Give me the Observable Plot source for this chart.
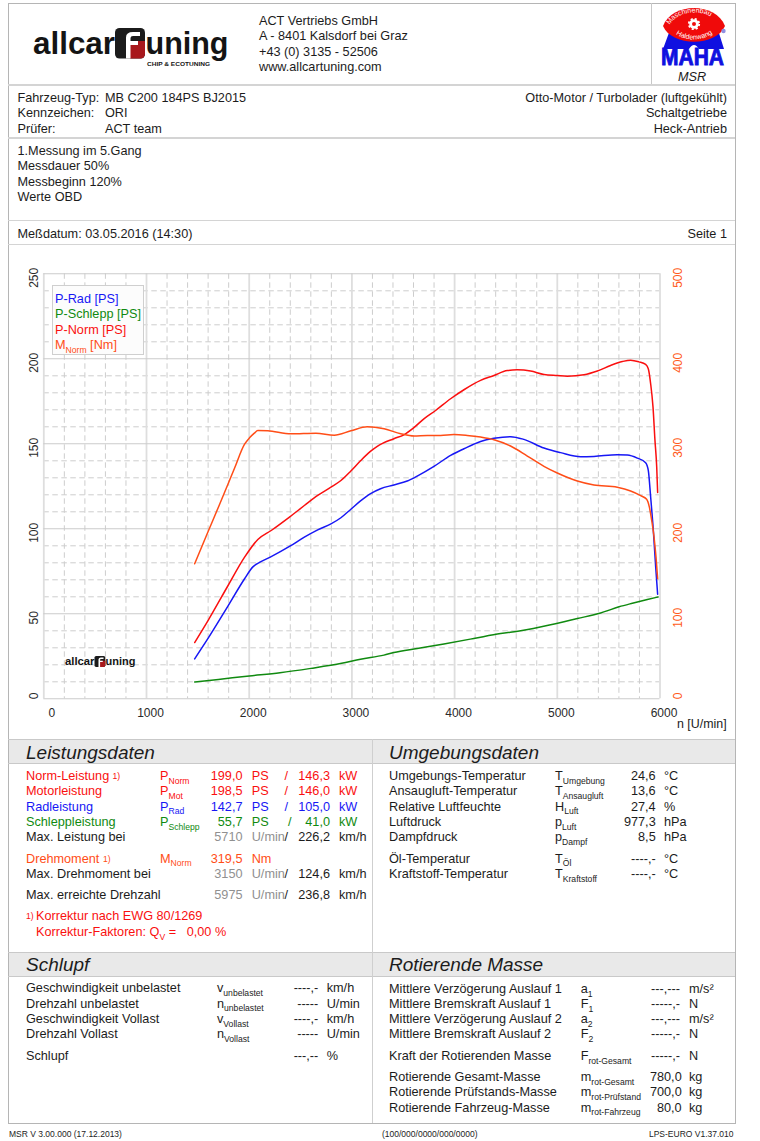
<!DOCTYPE html>
<html lang="de">
<head>
<meta charset="utf-8">
<title>MSR Leistungsmessung</title>
<script src="https://cdn.jsdelivr.net/npm/d3@7"></script>
<script src="https://cdn.jsdelivr.net/npm/@observablehq/plot@0.6"></script>
<style>
html,body{margin:0;padding:0;background:#fff}
#page{position:relative;width:760px;height:1141px;overflow:hidden;font-family:"Liberation Sans",Arial,sans-serif;font-size:12.7px;color:#1c1c1c}
#page .t{position:absolute;white-space:pre;line-height:1;transform:translateY(-50%)}
#page .t.r{transform:translate(-100%,-50%)}
#page .t sub{font-size:8.6px;vertical-align:baseline;position:relative;top:3.5px;line-height:0}
#page .b{position:absolute}
#chart{position:absolute;left:0;top:260px}
#chart svg{display:block;background:transparent}
</style>
</head>
<body>
<div id="page"><div id="chart"></div></div>
<script>
// ---- measured curves: engine speed [U/min] and value ----
const rpmRad = [1469,1599,1793,1955,2036,2100,2214,2392,2537,2667,2796,2893,2990,3084,3182,3279,3409,3539,3636,3799,3961,4091,4253,4383,4545,4675,4870,5032,5227,5357,5584,5682,5779,5860,5886,5909,5935,5958,5977];
const psRad  = [23.5,35.5,54.5,70.6,77.6,80.2,83.6,89.6,95.1,99.4,102.9,106.5,111.5,116.4,120.7,123.6,125.8,128.1,131,136.7,143.2,147.1,151.4,153.2,154.2,152.6,147.5,144.8,142.4,142.6,143.6,143.4,141.6,138.9,134.4,118.7,99.1,77.6,61.5];
const rpmNorm = [1469,1599,1793,1955,2084,2214,2392,2537,2667,2796,2893,2990,3084,3180,3247,3409,3506,3604,3701,3815,3961,4091,4253,4383,4513,4610,4740,4870,5000,5097,5260,5390,5519,5633,5714,5795,5860,5886,5909,5932,5951,5968,5977];
const psNorm  = [33.1,46,66.5,83.3,93.7,99,106.9,113.7,119.6,124.5,128.4,134,140,145.5,148.5,153,155.3,159.5,164.7,169.6,176.5,181.8,187.3,190.2,193.1,193.5,192.8,190.8,190.2,189.8,190.6,192.8,196.1,198.4,199.2,198.2,196.7,194.1,185.3,171.6,152,136.3,121.3];
const rpmSchlepp = [1469,1700,2000,2300,2600,2900,3084,3312,3409,3636,3896,4188,4448,4643,4935,5195,5422,5601,5731,5877,5981];
const psSchlepp  = [9.9,11.4,13.4,15.3,17.9,20.9,23.3,25.7,27.2,29.6,32.3,35.5,38.4,40,43.5,47.2,50.5,54.1,56.2,58.4,59.9];
const rpmMoment = [1469,1599,1702,1793,1858,1955,2003,2050,2084,2181,2408,2650,2828,2990,3149,3314,3476,3604,3734,3864,3994,4123,4253,4383,4545,4708,4870,5000,5195,5357,5584,5714,5812,5870,5896,5919,5942,5961,5977];
const nmMoment  = [158.8,196.5,226,252.5,271.5,299.5,307,312.5,315.7,315.3,311.8,312.5,310.2,315.3,320,317.6,311.8,309.1,309.9,309.9,311,309.9,307.9,304.8,297.4,285.6,273.5,265.6,256.2,251.5,248.8,244.5,239,234.7,225.7,210,190.4,166.9,141.4];

// ---- axis ticks ----
const xTicks = [1000,2000,3000,4000,5000,6000];
const psTicks = [50,100,150,200,250];
const nmTicks = [100,200,300,400,500];
const xMinor = d3.range(200,6000,200).filter(d => d % 1000);
const yMinor = d3.range(10,250,10).filter(d => d % 50);

// ---- texts ----
const companyLines = ["ACT Vertriebs GmbH","A - 8401 Kalsdorf bei Graz","+43 (0) 3135 - 52506","www.allcartuning.com"];
const vehicleLabels = ["Fahrzeug-Typ:","Kennzeichen:","Prüfer:"];
const vehicleValues = ["MB C200 184PS BJ2015","ORI","ACT team"];
const vehicleRight = ["Otto-Motor / Turbolader (luftgekühlt)","Schaltgetriebe","Heck-Antrieb"];
const noteLines = ["1.Messung im 5.Gang","Messdauer 50%","Messbeginn 120%","Werte OBD"];
const legendNames = [["P-Rad [PS]"],["P-Schlepp [PS]"],["P-Norm [PS]"],["M","Norm"," [Nm]"]];

const powerLabels = ["Norm-Leistung","Motorleistung","Radleistung","Schleppleistung"];
const powerSymbols = [["P","Norm"],["P","Mot"],["P","Rad"],["P","Schlepp"]];
const powerPS = ["199,0","198,5","142,7","55,7"];
const powerKW = ["146,3","146,0","105,0","41,0"];

const ambientLabels = ["Umgebungs-Temperatur","Ansaugluft-Temperatur","Relative Luftfeuchte","Luftdruck","Dampfdruck","Öl-Temperatur","Kraftstoff-Temperatur"];
const ambientSymbols = [["T","Umgebung"],["T","Ansaugluft"],["H","Luft"],["p","Luft"],["p","Dampf"],["T","Öl"],["T","Kraftstoff"]];
const ambientValues = ["24,6","13,6","27,4","977,3","8,5","----,-","----,-"];
const ambientUnits = ["°C","°C","%","hPa","hPa","°C","°C"];

const slipLabels = ["Geschwindigkeit unbelastet","Drehzahl unbelastet","Geschwindigkeit Vollast","Drehzahl Vollast","Schlupf"];
const slipSymbols = [["v","unbelastet"],["n","unbelastet"],["v","Vollast"],["n","Vollast"],[""]];
const slipValues = ["----,-","-----","----,-","-----","---,--"];
const slipUnits = ["km/h","U/min","km/h","U/min","%"];

const massLabels = ["Mittlere Verzögerung Auslauf 1","Mittlere Bremskraft Auslauf 1","Mittlere Verzögerung Auslauf 2","Mittlere Bremskraft Auslauf 2","Kraft der Rotierenden Masse","Rotierende Gesamt-Masse","Rotierende Prüfstands-Masse","Rotierende Fahrzeug-Masse"];
const massSymbols = [["a","1"],["F","1"],["a","2"],["F","2"],["F","rot-Gesamt"],["m","rot-Gesamt"],["m","rot-Prüfstand"],["m","rot-Fahrzeug"]];
const massValues = ["---,---","-----,-","---,---","-----,-","-----,-","780,0","700,0","80,0"];
const massUnits = ["m/s²","N","m/s²","N","N","kg","kg","kg"];

// ---- helpers ----
const page = document.getElementById("page");
const C = {red:"#fa0f0f",blue:"#1717f5",green:"#108a10",orange:"#ff4d17",gray:"#909090",ink:"#1c1c1c"};
function put(x, y, parts, o = {}) {
  const d = document.createElement("div");
  d.className = "t" + (o.right ? " r" : "");
  d.style.left = x + "px"; d.style.top = y + "px";
  if (o.color) d.style.color = o.color;
  if (o.size) d.style.fontSize = o.size + "px";
  if (o.italic) d.style.fontStyle = "italic";
  const list = Array.isArray(parts) ? parts : [parts];
  list.forEach((p, i) => {
    if (i === 1) { const s = document.createElement("sub"); s.textContent = p; d.appendChild(s); }
    else d.appendChild(document.createTextNode(p));
  });
  page.appendChild(d);
  return d;
}
function rect(x, y, w, h, color) {
  const d = document.createElement("div");
  d.className = "b";
  d.style.cssText = `left:${x}px;top:${y}px;width:${w}px;height:${h}px;background:${color}`;
  page.appendChild(d);
  return d;
}

// ---- page frame ----
const FL = 8, FR = 735, FT = 2.5, FB = 1122.5;
rect(FL, 740, FR - FL, 23.5, "#e9e9e9");
rect(FL, 952, FR - FL, 23.5, "#e9e9e9");
rect(FL, FT, FR - FL + 1, 1.3, "#b5b5b5");
rect(FL, FB, FR - FL + 1, 1.3, "#b5b5b5");
rect(FL, FT, 1.3, FB - FT, "#b5b5b5");
rect(FR, FT, 1.3, FB - FT, "#b5b5b5");
rect(651, FT, 1, 82, "#c8c8c8");
[[84,2],[137,1.6],[220,1],[243.5,1.6]].forEach(([y,h]) => rect(FL, y, FR - FL, h, "#d4d4d4"));
[[739,1.4],[763,1],[951.5,1.2],[975.5,1]].forEach(([y,h]) => rect(FL, y, FR - FL, h, "#c9c9c9"));
rect(371.5, 739, 1.2, FB - 739, "#cfcfcf");

// ---- logos ----
const NS = "http://www.w3.org/2000/svg";
function svgEl(parent, name, attrs, text) {
  const e = document.createElementNS(NS, name);
  for (const k in attrs) e.setAttribute(k, attrs[k]);
  if (text != null) e.textContent = text;
  parent.appendChild(e);
  return e;
}
function overlay(x, y, w, h, vb) {
  const s = document.createElementNS(NS, "svg");
  s.setAttribute("width", w); s.setAttribute("height", h);
  s.setAttribute("viewBox", vb);
  s.style.cssText = `position:absolute;left:${x}px;top:${y}px;overflow:visible`;
  page.appendChild(s);
  return s;
}
function allcarLogo(x, y, k, sub) {
  const s = overlay(x, y, 196 * k, 39 * k, "0 0 196 39");
  const f = {"font-family":"'Liberation Sans',Arial,sans-serif","font-weight":"700","fill":"#141414"};
  svgEl(s, "text", {...f, x:0, y:25.5, "font-size":31.5, textLength:82, lengthAdjust:"spacingAndGlyphs"}, "allcar");
  svgEl(s, "rect", {x:82, y:0, width:30, height:30.5, rx:4.5, fill:"#1b1b1b"});
  svgEl(s, "path", {d:"M97 30.5 V13 H112 V26 a4.5 4.5 0 0 1 -4.5 4.5 Z", fill:"#a8181c"});
  svgEl(s, "path", {d:"M93 30.5 V9.5 Q93 4 100 4 H107 V8 H100 Q97.5 8 97.5 10 V13 H105 V17 H97.5 V30.5 Z", fill:"#fff"});
  svgEl(s, "text", {...f, x:112.5, y:25.5, "font-size":31.5, textLength:83, lengthAdjust:"spacingAndGlyphs"}, "uning");
  if (sub) svgEl(s, "text", {...f, x:114, y:37.5, "font-size":5.6, textLength:63, lengthAdjust:"spacingAndGlyphs"}, "CHIP & ECOTUNING");
}
allcarLogo(33, 28, 1, true);
allcarLogo(65, 656, 0.36, false);

(function mahaLogo() {
  const s = overlay(655, 5, 75, 62, "655 5 75 62");
  svgEl(s, "path", {d:"M663 49 L670 30 H718 L724 49 H699 Q694 41 689 49 Z", fill:"#1010e0"});
  svgEl(s, "path", {d:"M663 26 C672 2 716 2 725 26 C716 47 672 47 663 26 Z", fill:"#f00a0a"});
  svgEl(s, "text", {x:661, y:65, "font-family":"'Liberation Sans',Arial,sans-serif","font-weight":"700","font-size":24, fill:"#1010e0", stroke:"#1010e0","stroke-width":0.9, textLength:63, lengthAdjust:"spacingAndGlyphs"}, "MAHA");
  const defs = svgEl(s, "defs", {});
  svgEl(defs, "path", {id:"mahaTop", d:"M669 26 C678 8 710 8 720 26"});
  svgEl(defs, "path", {id:"mahaBot", d:"M671 29 C680 43 708 43 718 28"});
  const tf = {"font-family":"'Liberation Sans',Arial,sans-serif","font-size":7, fill:"#fff"};
  const a = svgEl(s, "text", tf); svgEl(a, "textPath", {href:"#mahaTop", startOffset:"2%"}, "Maschinenbau");
  const b = svgEl(s, "text", tf); svgEl(b, "textPath", {href:"#mahaBot", startOffset:"13%"}, "Haldenwang");
  svgEl(s, "circle", {cx:694, cy:24, r:3.4, fill:"none", stroke:"#fff", "stroke-width":2.8});
  svgEl(s, "circle", {cx:694, cy:24, r:5.2, fill:"none", stroke:"#fff", "stroke-width":1.8, "stroke-dasharray":"2.1 2"});
  svgEl(s, "circle", {cx:723.5, cy:31, r:2.2, fill:"#8f8fe0"});
})();
put(692, 77, "MSR", {italic:true, color:"#1c1c1c"}).style.transform = "translate(-50%,-50%)";

// ---- header texts ----
[21,36.3,51.7,67.3].forEach((y, i) => put(259, y, companyLines[i]));
[98,113.3,128.7].forEach((y, i) => {
  put(17.5, y, vehicleLabels[i]);
  put(105, y, vehicleValues[i]);
  put(727, y, vehicleRight[i], {right:true});
});
[151,166,181.7,197].forEach((y, i) => put(17.5, y, noteLines[i]));
put(17.5, 234, "Meßdatum: 03.05.2016 (14:30)");
put(727, 234, "Seite 1", {right:true});

// ---- chart ----
const lineOpts = {strokeWidth: 1.5, curve: "monotone-x"};
const plain = d => String(d);
const chart = Plot.plot({
  width: 760, height: 480,
  marginTop: 13.3, marginBottom: 41.7, marginLeft: 43.3, marginRight: 100.5,
  x: {domain: [0, 6000]},
  y: {domain: [0, 250]},
  style: {fontFamily: "'Liberation Sans',Arial,sans-serif", background: "transparent", color: "#2a2a2a"},
  marks: [
    Plot.ruleX(xMinor, {stroke: "#cdcdcd", strokeDasharray: "5.5,3.5"}),
    Plot.ruleY(yMinor, {stroke: "#cdcdcd", strokeDasharray: "5.5,3.5"}),
    Plot.ruleX([0, ...xTicks], {stroke: "#dedede", strokeWidth: 1.8}),
    Plot.ruleY([0, ...psTicks], {stroke: "#cbcbcb", strokeWidth: 1.1}),
    Plot.line(psSchlepp, {x: rpmSchlepp, y: psSchlepp, stroke: C.green, ...lineOpts}),
    Plot.line(psRad, {x: rpmRad, y: psRad, stroke: C.blue, ...lineOpts}),
    Plot.line(psNorm, {x: rpmNorm, y: psNorm, stroke: C.red, ...lineOpts}),
    Plot.line(nmMoment, {x: rpmMoment, y: nmMoment.map(d => d / 2), stroke: C.orange, ...lineOpts}),
    Plot.axisX(xTicks, {anchor: "bottom", tickSize: 0, tickPadding: 9.5, dx: 4, fontSize: 12, tickFormat: plain, label: null}),
    Plot.axisX([0], {anchor: "bottom", tickSize: 0, tickPadding: 9.5, dx: 8, fontSize: 12, tickFormat: plain, label: null}),
    Plot.axisY(psTicks, {anchor: "left", tickSize: 0, tickPadding: 6, tickRotate: -90, dy: 4, fontSize: 12, label: null}),
    Plot.axisY([0], {anchor: "left", tickSize: 0, tickPadding: 6, tickRotate: -90, dy: -3, fontSize: 12, label: null}),
    Plot.axisY(nmTicks.map(d => d / 2), {anchor: "right", tickSize: 0, tickPadding: 22, tickRotate: -90, dy: 4, fontSize: 12, fill: "#ff5a20", tickFormat: d => d * 2, label: null}),
    Plot.axisY([0], {anchor: "right", tickSize: 0, tickPadding: 22, tickRotate: -90, dy: -3, fontSize: 12, fill: "#ff5a20", tickFormat: d => d * 2, label: null}),
    Plot.text(["n [U/min]"], {x: [6000], y: [0], dx: 17, dy: 25, textAnchor: "start", fontSize: 12.4, fill: "#1c1c1c"})
  ]
});
document.getElementById("chart").appendChild(chart);

// ---- legend box ----
const lg = rect(51.7, 285.3, 92.5, 69.5, "#fcfcfc");
lg.style.border = "1px solid #cfcfcf"; lg.style.boxSizing = "border-box";
[C.blue,C.green,C.red,C.orange].forEach((c, i) => put(55, 298.5 + i * 15.5, legendNames[i], {color: c}));

// ---- Leistungsdaten ----
put(26, 752, "Leistungsdaten", {italic:true, size:19});
put(389, 752, "Umgebungsdaten", {italic:true, size:19});
const powerY = [776,791.3,806.7,822];
const powerColors = [C.red,C.red,C.blue,C.green];
powerY.forEach((y, i) => {
  const c = powerColors[i];
  put(26, y, powerLabels[i], {color:c});
  put(160, y, powerSymbols[i], {color:c});
  put(242.5, y, powerPS[i], {color:c, right:true});
  put(251.7, y, "PS", {color:c});
  put(i === 3 ? 288 : 284.5, y, "/", {color:c});
  put(330, y, powerKW[i], {color:c, right:true});
  put(339, y, "kW", {color:c});
});
put(112.5, 776, "1)", {color:C.red, size:8.6});
put(26, 837.3, "Max. Leistung bei");
function speedRow(y, rpm, kmh) {
  put(242.5, y, rpm, {color:C.gray, right:true});
  put(251.7, y, "U/min", {color:C.gray});
  put(284.5, y, "/");
  put(330, y, kmh, {right:true});
  put(339, y, "km/h");
}
speedRow(837.3, "5710", "226,2");
put(26, 858.7, "Drehmoment", {color:C.orange});
put(103, 858.7, "1)", {color:C.orange, size:8.6});
put(160, 858.7, ["M","Norm"], {color:C.orange});
put(242.5, 858.7, "319,5", {color:C.orange, right:true});
put(251.7, 858.7, "Nm", {color:C.orange});
put(26, 874, "Max. Drehmoment bei");
speedRow(874, "3150", "124,6");
put(26, 895.3, "Max. erreichte Drehzahl");
speedRow(895.3, "5975", "236,8");
put(26, 916.3, "1)", {color:C.red, size:8.6});
put(36, 916.3, "Korrektur nach EWG 80/1269", {color:C.red});
put(36, 932, ["Korrektur-Faktoren: Q","V"," ="], {color:C.red});
put(186.7, 932, "0,00 %", {color:C.red});

// ---- Umgebungsdaten ----
[776,791.3,806.7,822,837.3,858.7,874].forEach((y, i) => {
  put(389, y, ambientLabels[i]);
  put(555, y, ambientSymbols[i]);
  put(655.7, y, ambientValues[i], {right:true});
  put(664, y, ambientUnits[i]);
});

// ---- Schlupf ----
put(26, 964, "Schlupf", {italic:true, size:19});
[988.3,1003.7,1019,1034.3,1056.3].forEach((y, i) => {
  put(26, y, slipLabels[i]);
  if (slipSymbols[i][0]) put(217, y, slipSymbols[i]);
  put(318.3, y, slipValues[i], {right:true});
  put(326.7, y, slipUnits[i]);
});

// ---- Rotierende Masse ----
put(389, 964, "Rotierende Masse", {italic:true, size:19});
[989,1004,1019.3,1034.3,1056.3,1077.3,1092,1107.7].forEach((y, i) => {
  put(389, y, massLabels[i]);
  put(580.7, y, massSymbols[i]);
  put(i < 5 ? 680 : 681.7, y, massValues[i], {right:true});
  put(689, y, massUnits[i]);
});

// ---- footer ----
put(9, 1134, "MSR V 3.00.000 (17.12.2013)", {size:8.5});
put(382, 1134, "(100/000/0000/000/0000)", {size:8.5});
put(733.5, 1134, "LPS-EURO V1.37.010", {size:8.5, right:true});
</script>
</body>
</html>
